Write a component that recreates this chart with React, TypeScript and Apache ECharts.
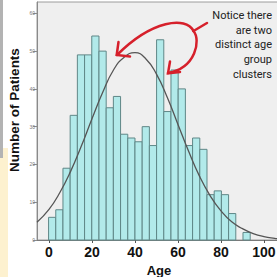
import React, { useEffect, useRef } from "react";
import * as echarts from "echarts";

// Histogram of patient ages (bin width ~3.35 years, first bin starts at ~0)
const BIN_START = -0.2;
const BIN_WIDTH = 3.35;
const COUNTS = [6, 8, 19, 33, 49, 49, 54, 50, 35, 38, 28, 27, 26, 30, 25, 53, 34, 45, 40, 25, 27, 24, 12, 13, 12, 7, 0, 2];

// Fitted normal curve
const CURVE_AGES = [-5.6, 0, 5, 10, 15, 20, 25, 30, 35, 40, 45, 50, 55, 60, 65, 70, 75, 80, 85, 90, 95, 100, 105, 107];
const CURVE_VALUES = [4.7, 8.1, 12.5, 18.1, 24.8, 32.1, 39.1, 45.0, 48.4, 49.6, 48.0, 43.9, 37.8, 30.6, 23.4, 16.9, 11.7, 7.7, 4.8, 3.0, 1.7, 0.9, 0.45, 0.35];

const X_TICKS = [0, 20, 40, 60, 80, 100];
const Y_TICKS = [0, 10, 20, 30, 40, 50, 60];
const NOTE_LINES = ["Notice there", "are two", "distinct age", "group", "clusters"];
const X_TITLE = "Age";
const Y_TITLE = "Number of Patients";

const RED = "#d6202b";

export default function App() {
  const ref = useRef<HTMLDivElement>(null);

  useEffect(() => {
    if (!ref.current) return;
    const chart = echarts.init(ref.current, undefined, { renderer: "svg" });

    const barData = COUNTS.map((c, i) => [
      BIN_START + i * BIN_WIDTH,
      BIN_START + (i + 1) * BIN_WIDTH,
      c,
    ]);
    const curveData = CURVE_AGES.map((a, i) => [a, CURVE_VALUES[i]]);

    const option: any = {
      animation: false,
      backgroundColor: "#ffffff",
      grid: {
        left: 37,
        right: -2,
        top: 2,
        bottom: 37,
        show: true,
        backgroundColor: "#efefef",
        borderColor: "#9c9c9c",
        borderWidth: 1,
        containLabel: false,
        outerBoundsMode: "none",
      },
      xAxis: {
        type: "value",
        min: -5.58,
        max: 107,
        axisLine: { show: true, onZero: false, lineStyle: { color: "#7a7a7a", width: 1 } },
        axisTick: { show: true, customValues: X_TICKS, length: 3, lineStyle: { color: "#555" } },
        axisLabel: {
          customValues: X_TICKS,
          fontSize: 14,
          fontWeight: "bold",
          color: "#111",
          fontFamily: "Liberation Sans, Arial, sans-serif",
          margin: 5,
        },
        splitLine: { show: false },
      },
      yAxis: {
        type: "value",
        min: 0,
        max: 63,
        axisLine: { show: true, onZero: false, lineStyle: { color: "#8a8a8a", width: 1 } },
        axisTick: { show: true, customValues: Y_TICKS, length: 4, lineStyle: { color: "#8a8a8a" } },
        axisLabel: {
          customValues: Y_TICKS,
          fontSize: 5,
          color: "#777",
          fontFamily: "Liberation Sans, Arial, sans-serif",
          margin: 2,
        },
        splitLine: { show: false },
      },
      series: [
        {
          type: "custom",
          data: barData,
          encode: { x: [0, 1], y: 2 },
          renderItem: (params: any, api: any) => {
            const x0 = api.value(0);
            const x1 = api.value(1);
            const c = api.value(2);
            if (!c) return null;
            const p0 = api.coord([x0, c]);
            const p1 = api.coord([x1, 0]);
            return {
              type: "rect",
              shape: { x: p0[0], y: p0[1], width: p1[0] - p0[0], height: p1[1] - p0[1] },
              style: { fill: "#b2eaea", stroke: "#5f8787", lineWidth: 1 },
            };
          },
          z: 2,
        },
        {
          type: "line",
          data: curveData,
          smooth: true,
          symbol: "none",
          lineStyle: { color: "#555", width: 1.3 },
          z: 3,
        },
      ],
      graphic: [
        { type: "rect", shape: { x: 0, y: 148, width: 8, height: 129 }, style: { fill: "#fdf1cf" }, z: 1 },
        { type: "rect", shape: { x: 0, y: 0, width: 3, height: 158 }, style: { fill: "#b3b3b3" }, z: 2 },
        {
          type: "text",
          x: 14.5,
          y: 110,
          rotation: Math.PI / 2,
          style: {
            text: Y_TITLE,
            fontSize: 13.5,
            fontWeight: "bold",
            fontFamily: "Liberation Sans, Arial, sans-serif",
            fill: "#111",
            align: "center",
            verticalAlign: "middle",
          },
          z: 10,
        },
        {
          type: "text",
          x: 159,
          y: 270,
          style: {
            text: X_TITLE,
            fontSize: 13,
            fontWeight: "bold",
            fontFamily: "Liberation Sans, Arial, sans-serif",
            fill: "#111",
            align: "center",
            verticalAlign: "middle",
          },
          z: 10,
        },
        {
          type: "text",
          x: 272,
          y: 8,
          style: {
            text: NOTE_LINES.join("\n"),
            fontSize: 11,
            lineHeight: 14.7,
            fontFamily: "Roboto, sans-serif",
            fill: "#222",
            align: "right",
            verticalAlign: "top",
          },
          z: 10,
        },
        // red arrows
        {
          type: "line",
          shape: { x1: 207, y1: 23, x2: 193.5, y2: 31 },
          style: { stroke: RED, lineWidth: 2.5, lineCap: "round" },
          z: 20,
        },
        {
          type: "bezierCurve",
          shape: { x1: 193.5, y1: 31, cpx1: 186, cpy1: 16, cpx2: 152, cpy2: 20, x2: 117, y2: 55 },
          style: { stroke: RED, lineWidth: 2.5, fill: "none", lineCap: "round" },
          z: 20,
        },
        {
          type: "polyline",
          shape: { points: [[118.5, 42], [116.7, 55], [130, 56.5]] },
          style: { stroke: RED, lineWidth: 2.5, fill: "none", lineCap: "round", lineJoin: "miter" },
          z: 20,
        },
        {
          type: "bezierCurve",
          shape: { x1: 193.5, y1: 31, cpx1: 201, cpy1: 40, cpx2: 196, cpy2: 68, x2: 168, y2: 73 },
          style: { stroke: RED, lineWidth: 2.5, fill: "none", lineCap: "round" },
          z: 20,
        },
        {
          type: "polyline",
          shape: { points: [[170, 61.5], [168, 73.3], [180, 72]] },
          style: { stroke: RED, lineWidth: 2.5, fill: "none", lineCap: "round", lineJoin: "miter" },
          z: 20,
        },
      ],
    };

    chart.setOption(option);
    return () => chart.dispose();
  }, []);

  return (
    <div
      ref={ref}
      style={{ position: "fixed", left: 0, top: 0, width: 277, height: 277, background: "#fff" }}
    />
  );
}
